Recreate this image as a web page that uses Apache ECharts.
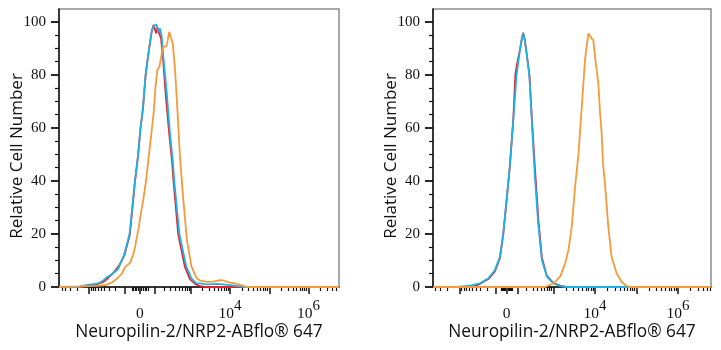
<!DOCTYPE html>
<html><head><meta charset="utf-8">
<script src="https://cdn.jsdelivr.net/npm/echarts@6/dist/echarts.min.js"></script>
<style>html,body{margin:0;padding:0;background:#fff}#c{width:721px;height:350px}</style>
</head><body><div id="c"></div>
<script>
// ---- data (x in logicle display units: 10^4 -> 4, 10^6 -> 6) ----
const X_TICK_VALUES = [0, 1e4, 1e6];
const X_TICK_LABELS = ['0', '10^4', '10^6'];
const Y_TICKS = [0, 20, 40, 60, 80, 100];
const X_TITLE = 'Neuropilin-2/NRP2-ABflo\u00AE 647';
const Y_TITLE = 'Relative Cell Number';

const leftRed = [[-0.36,0],[0.18,0],[0.38,0.4],[0.61,1.0],[0.79,2.0],[0.90,3.5],[1.02,5.2],[1.17,8],[1.31,12],[1.45,20],[1.58,40],[1.66,50],[1.72,60],[1.78,67],[1.85,80],[1.92,88],[2.00,96],[2.05,98.9],[2.09,97],[2.12,95.7],[2.15,98],[2.19,96],[2.24,94],[2.29,87],[2.36,73],[2.45,58],[2.52,48],[2.56,40],[2.68,20],[2.85,7.6],[2.98,3],[3.11,1.2],[3.24,0.3],[3.36,0],[6.78,0]];
const leftBlue = [[-0.36,0],[0.13,0],[0.31,0.6],[0.38,0.8],[0.56,1.2],[0.66,1.5],[0.76,2.3],[0.87,3.8],[0.99,4.8],[1.15,6.8],[1.30,12],[1.44,20],[1.58,40],[1.66,50],[1.72,60],[1.78,67],[1.85,80],[1.92,88],[2.01,97],[2.06,98.6],[2.13,99],[2.17,96.5],[2.22,97.5],[2.26,94.5],[2.30,87],[2.39,73],[2.47,58],[2.54,48],[2.58,40],[2.71,20],[2.88,8],[3.01,3.5],[3.13,1.5],[3.24,1.4],[3.36,1.1],[3.49,1.0],[3.62,1.2],[3.75,1.1],[3.95,0.8],[4.15,0.4],[4.26,0.2],[4.36,0],[6.78,0]];
const leftOrange = [[-0.36,0],[0.18,0.2],[0.56,0.4],[0.69,0.5],[0.84,0.8],[0.99,1.7],[1.11,3],[1.24,5],[1.33,7.6],[1.45,9],[1.53,12],[1.58,15],[1.63,19],[1.68,23],[1.73,28],[1.79,33],[1.86,40],[1.92,48],[1.99,57],[2.05,65],[2.10,75],[2.15,82],[2.20,83],[2.26,88],[2.30,90.7],[2.37,90.7],[2.40,92],[2.45,96.3],[2.49,97],[2.54,92],[2.60,82],[2.66,67],[2.73,48],[2.81,33],[2.90,18],[3.02,7.7],[3.15,3.3],[3.24,2.4],[3.41,1.9],[3.57,2.0],[3.75,2.6],[3.85,2.4],[3.95,1.8],[4.17,1.2],[4.31,0.6],[4.43,0],[6.78,0]];

const rightRed = [[0.10,0],[1.05,0],[1.23,1.2],[1.43,3.0],[1.59,6.0],[1.71,11],[1.79,20],[1.87,32.8],[1.95,46],[2.03,63],[2.08,80],[2.12,84],[2.19,89.4],[2.24,94],[2.27,96],[2.31,93],[2.35,88.5],[2.42,80],[2.48,63],[2.56,43],[2.64,24.5],[2.72,11],[2.84,4.2],[3.00,1.5],[3.16,0.5],[3.30,0],[6.80,0]];
const rightBlue = [[0.10,0],[0.67,0],[0.99,0.5],[1.23,1.4],[1.43,3.3],[1.59,6.4],[1.71,11.4],[1.79,20.3],[1.87,32.8],[1.95,46],[2.03,63],[2.11,80],[2.19,89.4],[2.24,94],[2.27,95.7],[2.31,93],[2.35,88.2],[2.42,79.4],[2.48,62],[2.55,42],[2.63,24],[2.72,10.2],[2.84,3.9],[3.00,1.4],[3.16,0.4],[3.30,0],[6.80,0]];
const rightOrange = [[0.10,0],[2.80,0],[3.00,1.4],[3.16,3.9],[3.28,8.9],[3.36,14],[3.44,22.8],[3.52,37.8],[3.60,50],[3.69,70],[3.76,86],[3.84,95.7],[3.88,95.5],[3.92,93.8],[3.96,93],[4.00,87],[4.04,81.9],[4.08,76.9],[4.12,66],[4.16,58],[4.19,47],[4.24,39],[4.32,22.8],[4.40,11.4],[4.52,5.2],[4.64,2],[4.76,0.4],[4.84,0],[6.80,0]];

// ---- layout ----
const panels = [
  {left: 59, width: 280, xmin: -0.357, xmax: 6.777, w: 50.9, red: leftRed, blue: leftBlue, orange: leftOrange},
  {left: 433, width: 278, xmin: 0.096, xmax: 6.795, w: 74.5, red: rightRed, blue: rightBlue, orange: rightOrange}
];
const TOP = 9, HEIGHT = 278, YMAX = 104.9;
const COLORS = {red: '#e8202a', blue: '#1cb3e6', orange: '#f69a3a'};

function disp(v, w) { return Math.log10(w) + Math.asinh(v / (2 * w)) / Math.LN10; }

function tickSets(p) {
  const major = [disp(0, p.w)], minor = [];
  for (let n = 1; n <= 7; n++) {
    for (let k = 1; k <= 9; k++) {
      if (n === 1 && k > 5) continue;
      for (const s of [1, -1]) {
        const d = disp(s * k * Math.pow(10, n), p.w);
        if (d < p.xmin || d > p.xmax) continue;
        if (k === 1 && n >= 2) major.push(d); else minor.push(d);
      }
    }
  }
  return {major, minor};
}

const grid = [], xAxis = [], yAxis = [], series = [];
panels.forEach((p, i) => {
  grid.push({left: p.left, top: TOP, width: p.width, height: HEIGHT, show: true, borderColor: '#8c8c8c', borderWidth: 1.5, backgroundColor: 'transparent'});
  const t = tickSets(p);
  const labelPos = X_TICK_VALUES.map(v => disp(v, p.w));
  const base = {type: 'value', gridIndex: i, position: 'bottom', min: p.xmin, max: p.xmax, splitLine: {show: false}};
  xAxis.push(Object.assign({}, base, {
    axisLine: {show: true, onZero: false, lineStyle: {color: '#111', width: 1.5}},
    axisTick: {show: true, inside: false, length: 7, customValues: t.major, lineStyle: {color: '#111', width: 1.5}},
    axisLabel: {show: true, customValues: labelPos, margin: 12,
      formatter: function (val) {
        let bi = 0, bd = 1e9;
        labelPos.forEach((lp, j) => { const dd = Math.abs(lp - val); if (dd < bd) { bd = dd; bi = j; } });
        const s = X_TICK_LABELS[bi];
        if (s.indexOf('^') >= 0) { const q = s.split('^'); return '{b|' + q[0] + '}{s|' + q[1] + '}'; }
        return '{b|' + s + '}';
      },
      rich: {
        b: {fontFamily: 'Liberation Serif', fontSize: 15.5, lineHeight: 30, color: '#111'},
        s: {fontFamily: 'Liberation Serif', fontSize: 15, verticalAlign: 'top', color: '#111'}
      }},
    name: X_TITLE, nameLocation: 'middle', nameGap: 37, nameMoveOverlap: false,
    nameTextStyle: {fontFamily: 'Open Sans', fontSize: 17.3, color: '#111'}
  }));
  xAxis.push(Object.assign({}, base, {
    axisLine: {show: false, onZero: false},
    axisTick: {show: true, length: 4, customValues: t.minor, lineStyle: {color: '#111', width: 1.2}},
    axisLabel: {show: false}
  }));
  const ybase = {type: 'value', gridIndex: i, position: 'left', min: 0, max: YMAX, splitLine: {show: false}};
  yAxis.push(Object.assign({}, ybase, {
    axisLine: {show: true, onZero: false, lineStyle: {color: '#111', width: 1.5}},
    axisTick: {show: true, length: 8, customValues: Y_TICKS, lineStyle: {color: '#111', width: 1.8}},
    axisLabel: {show: true, customValues: Y_TICKS, margin: 13, fontFamily: 'Liberation Serif', fontSize: 15, color: '#111'},
    name: Y_TITLE, nameLocation: 'middle', nameGap: 33, nameMoveOverlap: false,
    nameTextStyle: {fontFamily: 'Open Sans', fontSize: 17, color: '#111', padding: [0, 16, 0, 0]}
  }));
  const minorY = [];
  for (let v = 5; v < 100; v += 5) if (v % 20 !== 0) minorY.push(v);
  yAxis.push(Object.assign({}, ybase, {
    axisLine: {show: false, onZero: false},
    axisTick: {show: true, length: 4, customValues: minorY, lineStyle: {color: '#111', width: 1.2}},
    axisLabel: {show: false}
  }));
  [['red', p.red], ['blue', p.blue], ['orange', p.orange]].forEach(([c, d]) => {
    series.push({type: 'line', xAxisIndex: i * 2, yAxisIndex: i * 2, data: d, showSymbol: false, symbol: 'none',
      lineStyle: {color: COLORS[c], width: 1.8}, itemStyle: {color: COLORS[c]}, animation: false, z: 3});
  });
});

const chart = echarts.init(document.getElementById('c'), null, {renderer: 'canvas'});
chart.setOption({animation: false, grid, xAxis, yAxis, series});
</script></body></html>
